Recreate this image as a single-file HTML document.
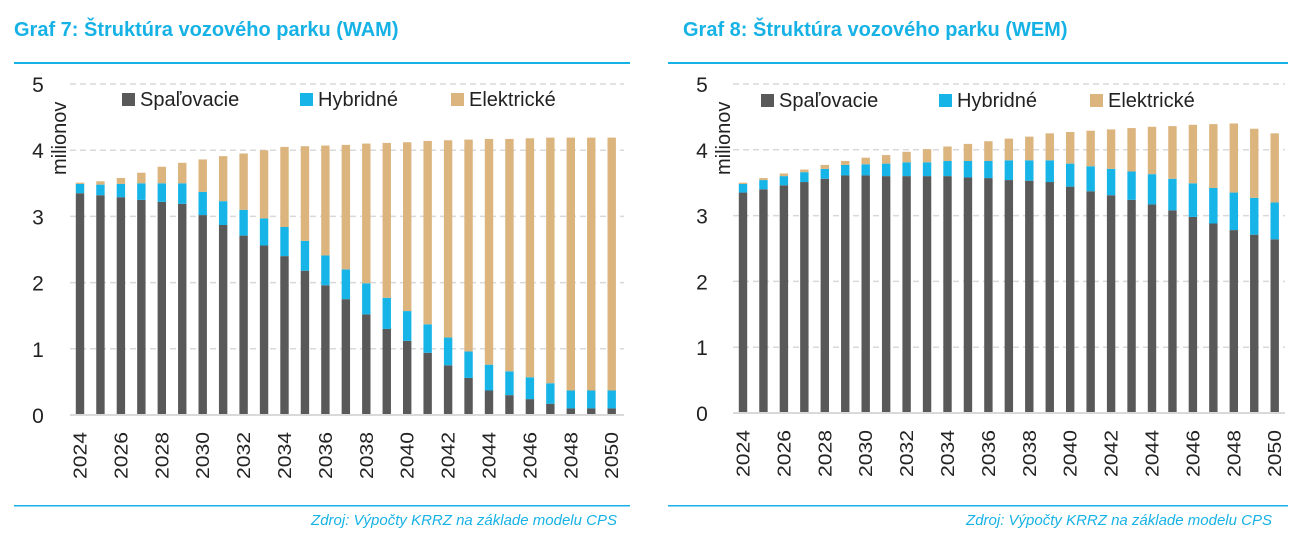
<!DOCTYPE html>
<html><head><meta charset="utf-8"><style>
body{margin:0;background:#fff;width:1302px;height:542px;overflow:hidden;font-family:"Liberation Sans",sans-serif}
</style></head><body>
<svg id="s" width="1302" height="542" xmlns="http://www.w3.org/2000/svg" font-family="Liberation Sans, sans-serif"></svg>
<script>
const L=[[3.35,3.49,3.51],[3.32,3.48,3.53],[3.29,3.49,3.58],[3.25,3.50,3.66],[3.22,3.50,3.75],[3.19,3.50,3.81],[3.02,3.37,3.86],[2.87,3.23,3.91],[2.71,3.10,3.95],[2.56,2.97,4.00],[2.40,2.84,4.05],[2.18,2.63,4.06],[1.96,2.41,4.07],[1.75,2.20,4.08],[1.52,1.99,4.10],[1.30,1.77,4.11],[1.12,1.57,4.12],[0.94,1.37,4.14],[0.75,1.17,4.15],[0.56,0.96,4.16],[0.37,0.76,4.17],[0.30,0.66,4.17],[0.24,0.57,4.18],[0.17,0.48,4.19],[0.10,0.37,4.19],[0.10,0.37,4.19],[0.10,0.37,4.19]];
const R=[[3.35,3.48,3.50],[3.40,3.54,3.57],[3.46,3.60,3.64],[3.51,3.66,3.70],[3.56,3.71,3.77],[3.61,3.77,3.83],[3.61,3.78,3.88],[3.60,3.79,3.92],[3.60,3.81,3.97],[3.60,3.81,4.01],[3.60,3.83,4.05],[3.58,3.83,4.09],[3.57,3.83,4.13],[3.54,3.84,4.17],[3.53,3.84,4.20],[3.51,3.84,4.25],[3.44,3.79,4.27],[3.37,3.75,4.29],[3.31,3.71,4.31],[3.24,3.67,4.33],[3.17,3.63,4.35],[3.08,3.56,4.36],[2.98,3.49,4.38],[2.88,3.42,4.39],[2.78,3.35,4.40],[2.71,3.27,4.32],[2.64,3.20,4.25]];
let h='';
function chart(ox,title,data,x0,y0,y5,axL,axR,ylab,legX,legY,srcX,lx1,lx2){
 const u=(y0-y5)/5;
 h+=`<text x="${ox}" y="36" font-size="20" font-weight="bold" fill="#17b2e5">${title}</text>`;
 h+=`<rect x="${lx1}" y="62" width="${lx2-lx1}" height="2" fill="#17b2e5"/>`;
 h+=`<rect x="${lx1}" y="505" width="${lx2-lx1}" height="1.5" fill="#17b2e5"/>`;
 for(let i=1;i<=5;i++){const y=y0-i*u;h+=`<line x1="${axL}" x2="${axR}" y1="${y}" y2="${y}" stroke="#d9d9d9" stroke-width="1.5" stroke-dasharray="6,4"/>`;}
 for(let i=0;i<=5;i++){const y=y0-i*u;h+=`<text x="${ylab}" y="${y+8}" font-size="21" fill="#222" text-anchor="middle">${i}</text>`;}
 h+=`<text transform="translate(${ylab+28},175) rotate(-90)" font-size="20" fill="#222">milionov</text>`;
 data.forEach((d,i)=>{const x=x0+i*20.45-4.2;
  h+=`<rect x="${x}" y="${y0-d[0]*u}" width="8.4" height="${d[0]*u}" fill="#595959"/>`;
  h+=`<rect x="${x}" y="${y0-d[1]*u}" width="8.4" height="${(d[1]-d[0])*u}" fill="#17b4e8"/>`;
  h+=`<rect x="${x}" y="${y0-d[2]*u}" width="8.4" height="${(d[2]-d[1])*u}" fill="#dbb47e"/>`;
  if(i%2==0)h+=`<text transform="translate(${x0+i*20.45+6.5},${y0+64}) rotate(-90)" font-size="18" textLength="47" lengthAdjust="spacingAndGlyphs" fill="#222">${2024+i}</text>`;
 });
 h+=`<line x1="${axL}" x2="${axR}" y1="${y0}" y2="${y0}" stroke="#d9d9d9" stroke-width="2"/>`;
 const lg=[["Spaľovacie","#595959",0],["Hybridné","#17b4e8",178],["Elektrické","#dbb47e",329]];
 lg.forEach(([t,c,dx])=>{h+=`<rect x="${legX+dx}" y="${legY-13}" width="13" height="13" fill="${c}"/><text x="${legX+dx+18}" y="${legY}" font-size="20" fill="#222">${t}</text>`;});
 h+=`<text x="${srcX}" y="525" font-size="15" font-style="italic" fill="#17b2e5" text-anchor="end">Zdroj: Výpočty KRRZ na základe modelu CPS</text>`;
}
chart(14,"Graf 7: Štruktúra vozového parku (WAM)",L,80,415,84,70,624,38,122,106,617,14,630);
chart(683,"Graf 8: Štruktúra vozového parku (WEM)",R,743,413,84,733,1285,702,761,107,1272,668,1288);
document.getElementById('s').innerHTML=h;
</script>
</body></html>
